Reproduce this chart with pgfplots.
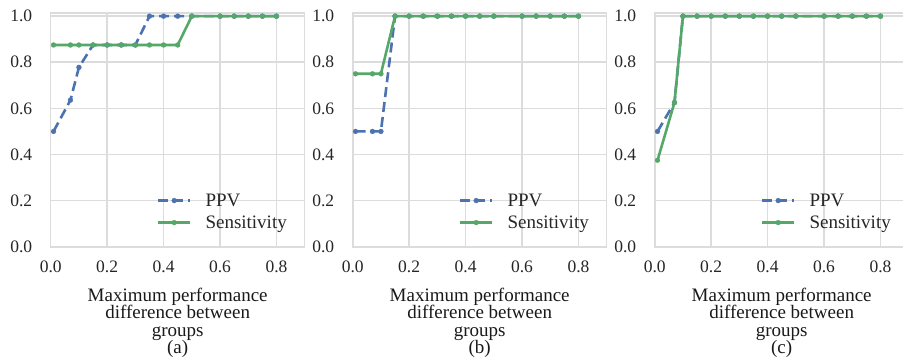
\documentclass[border=0pt]{standalone}
\usepackage{pgfplots}
\pgfplotsset{compat=1.18}
\usepackage{fontspec}
\setmainfont{Liberation Serif}
\definecolor{sbblue}{HTML}{4C72B0}
\definecolor{sbgreen}{HTML}{55A868}
\definecolor{gridc}{HTML}{DCDCDC}
\pgfplotsset{
  panel/.style={
    scale only axis, width=254pt, height=234pt,
    xmin=0, xmax=0.9, ymin=0, ymax=1.015,
    xtick={0,0.2,0.4,0.6,0.8}, ytick={0,0.2,0.4,0.6,0.8,1.0},
    grid=major, major grid style={gridc, line width=1.6pt},
    axis line style={gridc, line width=1.6pt},
    major tick length=0pt,
    tick label style={font=\fontsize{17.5}{19}\selectfont, text=black!85},
    /pgf/number format/fixed, /pgf/number format/fixed zerofill,
    /pgf/number format/precision=1, /pgf/number format/assume math mode=true,
    xticklabel style={yshift=-11pt},
    yticklabel style={xshift=-15pt},
    xlabel style={font=\fontsize{19}{17.5}\selectfont, align=center, text=black!90, yshift=-8pt},
    legend style={at={(0.95,0.055)}, anchor=south east, draw=none, fill=none,
      font=\fontsize{19}{21}\selectfont, text=black!85, row sep=4pt, column sep=12pt},
    legend cell align=left,
    legend image code/.code={\draw[mark repeat=2,mark phase=2,##1] plot coordinates {(0pt,0pt) (16pt,0pt) (32pt,0pt)};},
  },
  ppv/.style={sbblue, line width=2.6pt, dash pattern=on 10pt off 5pt, mark=*, mark size=2.5pt, mark options={solid, fill=sbblue, draw=sbblue, line width=0.2pt}},
  sens/.style={sbgreen, line width=2.6pt, mark=*, mark size=2.5pt, mark options={solid, fill=sbgreen, draw=sbgreen, line width=0.2pt}},
}
\begin{document}
\begin{tikzpicture}
\useasboundingbox (-50.7pt,-115.3pt) rectangle (852.3pt,246.7pt);
% (a)
\begin{axis}[panel, xlabel={Maximum performance\\difference between\\groups\\(a)}]
\addplot[ppv] coordinates {(0.01,0.5) (0.07,0.636) (0.1,0.778) (0.15,0.875) (0.2,0.875) (0.25,0.875) (0.3,0.875) (0.35,1.0) (0.4,1.0) (0.45,1.0) (0.5,1.0) (0.6,1.0) (0.65,1.0) (0.7,1.0) (0.75,1.0) (0.8,1.0)};
\addplot[sens] coordinates {(0.01,0.875) (0.07,0.875) (0.1,0.875) (0.15,0.875) (0.2,0.875) (0.25,0.875) (0.3,0.875) (0.35,0.875) (0.4,0.875) (0.45,0.875) (0.5,1.0) (0.6,1.0) (0.65,1.0) (0.7,1.0) (0.75,1.0) (0.8,1.0)};
\legend{PPV, Sensitivity}
\end{axis}
% (b)
\begin{axis}[panel, xshift=302pt, xlabel={Maximum performance\\difference between\\groups\\(b)}]
\addplot[ppv] coordinates {(0.01,0.5) (0.07,0.5) (0.1,0.5) (0.15,1.0) (0.2,1.0) (0.25,1.0) (0.3,1.0) (0.35,1.0) (0.4,1.0) (0.45,1.0) (0.5,1.0) (0.6,1.0) (0.65,1.0) (0.7,1.0) (0.75,1.0) (0.8,1.0)};
\addplot[sens] coordinates {(0.01,0.75) (0.07,0.75) (0.1,0.75) (0.15,1.0) (0.2,1.0) (0.25,1.0) (0.3,1.0) (0.35,1.0) (0.4,1.0) (0.45,1.0) (0.5,1.0) (0.6,1.0) (0.65,1.0) (0.7,1.0) (0.75,1.0) (0.8,1.0)};
\legend{PPV, Sensitivity}
\end{axis}
% (c)
\begin{axis}[panel, xshift=604pt, xlabel={Maximum performance\\difference between\\groups\\(c)}]
\addplot[ppv] coordinates {(0.01,0.5) (0.07,0.625) (0.1,1.0) (0.15,1.0) (0.2,1.0) (0.25,1.0) (0.3,1.0) (0.35,1.0) (0.4,1.0) (0.45,1.0) (0.5,1.0) (0.6,1.0) (0.65,1.0) (0.7,1.0) (0.75,1.0) (0.8,1.0)};
\addplot[sens] coordinates {(0.01,0.375) (0.07,0.625) (0.1,1.0) (0.15,1.0) (0.2,1.0) (0.25,1.0) (0.3,1.0) (0.35,1.0) (0.4,1.0) (0.45,1.0) (0.5,1.0) (0.6,1.0) (0.65,1.0) (0.7,1.0) (0.75,1.0) (0.8,1.0)};
\legend{PPV, Sensitivity}
\end{axis}
\end{tikzpicture}
\end{document}
